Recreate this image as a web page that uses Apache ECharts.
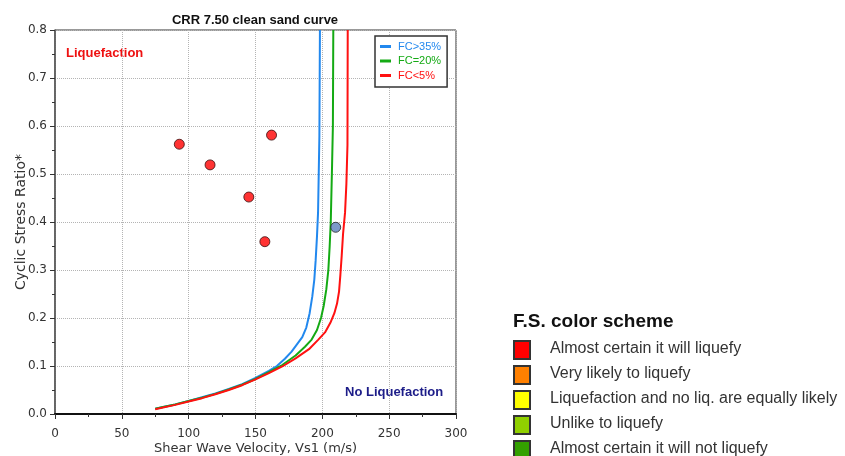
<!DOCTYPE html>
<html>
<head>
<meta charset="utf-8">
<script src="https://cdn.jsdelivr.net/npm/echarts@6/dist/echarts.min.js"></script>
<style>
  html, body { margin: 0; padding: 0; background: #fff; }
  #chart { width: 845px; height: 456px; }
</style>
</head>
<body>
<div id="chart"></div>
<script>
// CRR curves: [Vs1 (m/s), CSR]
const crrFines35 = [
  [75, 0.011], [80, 0.014], [90, 0.020], [100, 0.027], [110, 0.035], [120, 0.043],
  [130, 0.052], [140, 0.062], [150, 0.075], [160, 0.090], [166, 0.100], [172, 0.115],
  [177, 0.130], [181, 0.145], [185, 0.160], [188, 0.180], [190.5, 0.210], [192.5, 0.245],
  [194, 0.280], [195, 0.320], [196, 0.370], [196.8, 0.420], [197.3, 0.500], [197.8, 0.580],
  [198.2, 0.800]
]
const crrFines20 = [
  [75, 0.011], [80, 0.014], [90, 0.020], [100, 0.027], [110, 0.034], [120, 0.042],
  [130, 0.051], [140, 0.061], [150, 0.073], [160, 0.087], [170, 0.102], [180, 0.122],
  [187, 0.140], [192, 0.155], [196, 0.175], [199, 0.200], [201, 0.225], [203, 0.260],
  [204.5, 0.300], [205.5, 0.350], [206.3, 0.400], [207.3, 0.520], [207.9, 0.600], [208.2, 0.800]
]
const crrFines5 = [
  [75, 0.010], [80, 0.013], [90, 0.019], [100, 0.026], [110, 0.033], [120, 0.041],
  [130, 0.050], [140, 0.060], [150, 0.072], [160, 0.085], [170, 0.099], [180, 0.116],
  [190, 0.135], [197, 0.155], [202, 0.170], [206, 0.190], [209, 0.210], [211, 0.230],
  [212.5, 0.255], [213.5, 0.290], [214.5, 0.330], [215.5, 0.375], [217, 0.420],
  [218, 0.480], [218.8, 0.560], [219, 0.800]
]

// measured points
const liqVs = [93, 116, 145, 162, 157]
const liqCsr = [0.562, 0.519, 0.452, 0.581, 0.359]
const noLiqVs = [210]
const noLiqCsr = [0.389]

const curveNames = ['FC>35%', 'FC=20%', 'FC<5%']
const fsSchemeLabels = [
  'Almost certain it will liquefy',
  'Very likely to liquefy',
  'Liquefaction and no liq. are equally likely',
  'Unlike to liquefy',
  'Almost certain it will not liquefy'
]

const curveColors = ['#2288ee', '#14aa14', '#ff1111']
const fsSchemeColors = ['#ff0000', '#ff8000', '#ffff00', '#90d000', '#34a000']
const axisFont = 'DejaVu Sans'

const toPairs = (xs, ys) => xs.map((x, i) => [x, ys[i]])

const chart = echarts.init(document.getElementById('chart'))

// F.S. colour scheme box (bottom right)
const schemeGraphics = [{
  type: 'text',
  x: 513,
  y: 322,
  style: {
    text: 'F.S. color scheme',
    font: 'bold 19px "Liberation Sans"',
    fill: '#111',
    textVerticalAlign: 'middle'
  }
}]
fsSchemeLabels.forEach((label, i) => {
  schemeGraphics.push({
    type: 'rect',
    shape: { x: 514, y: 341 + i * 25, width: 16, height: 18 },
    style: { fill: fsSchemeColors[i], stroke: '#333', lineWidth: 2 }
  })
  schemeGraphics.push({
    type: 'text',
    x: 550,
    y: 349 + i * 25,
    style: {
      text: label,
      font: '16px "Liberation Sans"',
      fill: '#333',
      textVerticalAlign: 'middle'
    }
  })
})

const option = {
  animation: false,
  backgroundColor: '#fff',
  title: {
    text: 'CRR 7.50 clean sand curve',
    left: 250,
    top: 9,
    textAlign: 'center',
    textStyle: {
      fontFamily: 'Liberation Sans',
      fontWeight: 'bold',
      fontSize: 13,
      color: '#111'
    }
  },
  legend: {
    orient: 'vertical',
    left: 375,
    top: 36,
    width: 72,
    padding: [5, 6, 6, 5],
    itemGap: 3.5,
    itemWidth: 11,
    itemHeight: 3,
    icon: 'rect',
    borderColor: '#333',
    borderWidth: 1.5,
    backgroundColor: '#fff',
    data: curveNames.map((name, i) => ({
      name,
      textStyle: { color: curveColors[i] }
    })),
    textStyle: {
      fontFamily: 'Liberation Sans',
      fontSize: 11,
      padding: [0, 0, 0, 2]
    }
  },
  grid: {
    left: 55,
    right: 389,
    top: 30,
    bottom: 42,
    outerBoundsMode: 'none',
    show: true,
    borderColor: '#333',
    borderWidth: 1
  },
  xAxis: {
    type: 'value',
    min: 0,
    max: 300,
    interval: 50,
    name: 'Shear Wave Velocity, Vs1 (m/s)',
    nameLocation: 'middle',
    nameGap: 28,
    nameMoveOverlap: false,
    nameTextStyle: { fontFamily: axisFont, fontSize: 13, color: '#333' },
    axisLine: { lineStyle: { color: '#111', width: 2 } },
    axisTick: { length: 5, lineStyle: { color: '#333' } },
    minorTick: { show: true, splitNumber: 2, length: 3, lineStyle: { color: '#333' } },
    axisLabel: { fontFamily: axisFont, fontSize: 12, color: '#333', margin: 14 },
    splitLine: { lineStyle: { color: '#b4b4b4', type: 'dotted' } }
  },
  yAxis: {
    type: 'value',
    min: 0,
    max: 0.8,
    interval: 0.1,
    name: 'Cyclic Stress Ratio*',
    nameLocation: 'middle',
    nameGap: 27,
    nameMoveOverlap: false,
    nameTextStyle: { fontFamily: axisFont, fontSize: 14, color: '#333' },
    axisLine: { show: true, lineStyle: { color: '#555', width: 1.5 } },
    axisTick: { show: true, length: 5, lineStyle: { color: '#333' } },
    minorTick: { show: true, splitNumber: 2, length: 3, lineStyle: { color: '#333' } },
    axisLabel: {
      fontFamily: axisFont,
      fontSize: 12,
      color: '#333',
      margin: 8,
      formatter: v => v.toFixed(1)
    },
    splitLine: { lineStyle: { color: '#b4b4b4', type: 'dotted' } }
  },
  graphic: [
    {
      type: 'text',
      x: 66,
      y: 53,
      style: {
        text: 'Liquefaction',
        font: 'bold 13px "Liberation Sans"',
        fill: '#ee1111',
        textVerticalAlign: 'middle'
      }
    },
    {
      type: 'text',
      x: 345,
      y: 392,
      style: {
        text: 'No Liquefaction',
        font: 'bold 13px "Liberation Sans"',
        fill: '#1c1c88',
        textVerticalAlign: 'middle'
      }
    }
  ].concat(schemeGraphics),
  series: [
    {
      name: curveNames[0],
      type: 'line',
      data: crrFines35,
      showSymbol: false,
      lineStyle: { color: curveColors[0], width: 2 },
      itemStyle: { color: curveColors[0] },
      z: 3
    },
    {
      name: curveNames[1],
      type: 'line',
      data: crrFines20,
      showSymbol: false,
      lineStyle: { color: curveColors[1], width: 2 },
      itemStyle: { color: curveColors[1] },
      z: 4
    },
    {
      name: curveNames[2],
      type: 'line',
      data: crrFines5,
      showSymbol: false,
      lineStyle: { color: curveColors[2], width: 2 },
      itemStyle: { color: curveColors[2] },
      z: 5
    },
    {
      name: 'liquefy',
      type: 'scatter',
      data: toPairs(liqVs, liqCsr),
      symbolSize: 10,
      itemStyle: { color: '#ff0000', borderColor: '#3a1010', borderWidth: 1 },
      z: 6
    },
    {
      name: 'no liquefy',
      type: 'scatter',
      data: toPairs(noLiqVs, noLiqCsr),
      symbolSize: 10,
      itemStyle: { color: '#5b80bc', borderColor: '#222', borderWidth: 1 },
      z: 6
    }
  ]
}

chart.setOption(option)
</script>
</body>
</html>
